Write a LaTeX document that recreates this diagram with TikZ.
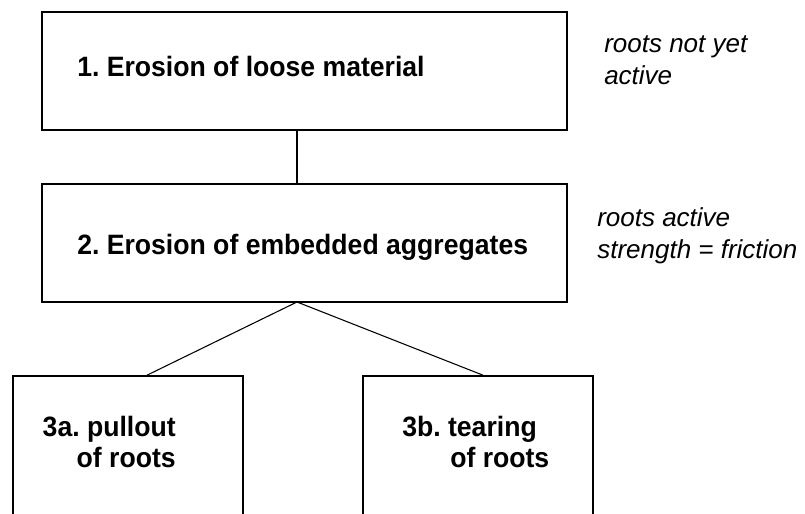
\documentclass[tikz,border=0pt]{standalone}
\usepackage{fontspec}
\setmainfont{Liberation Sans}
\newfontfamily\stagefont[FakeStretch=0.95]{Liberation Sans}
\frenchspacing
\tikzset{stage/.style={draw,line width=1.2pt,minimum width=393.75pt,minimum height=88.5pt,inner sep=0pt},
 substage/.style={stage,minimum width=172.5pt,minimum height=135pt},
 stagetext/.style={font=\stagefont\bfseries\fontsize{21}{23.25}\selectfont,inner sep=0pt},
 note/.style={font=\itshape\fontsize{19.5}{24}\selectfont,inner sep=0pt,align=left},
 link/.style={line width=0.8pt}}

\begin{document}
\begin{tikzpicture}[x=0.75pt,y=-0.75pt]
\useasboundingbox (0,0) rectangle (805,513);
\clip (0,0) rectangle (805,513);
% upper stages
\node[stage] (b1) at (304.5,71) {};
\node[stagetext,anchor=base west] (t1) at (77,77) {1. Erosion of loose material};
\node[stage] (b2) at (304.5,243) {};
\node[stagetext,anchor=base west] (t2) at (77,254) {2. Erosion of embedded aggregates};
% lower stages
\foreach \x/\part in {128/a,478/b} {
 \node[substage] (b3\part) at (\x,466) {};
}
\node[stagetext,align=right,anchor=base east] (t3a) at (176,467) {3a. pullout\\of roots};
\node[stagetext,align=left,anchor=base west] (t3b) at (402,467) {3b. tearing\\\hspace*{36pt}of roots};
% notes (base = last line)
\node[note,anchor=base west] (n1) at (604,85) {roots not yet\\active};
\node[note,anchor=base west] (n2) at (597,258) {roots active\\strength = friction};
% links
\coordinate (fork) at (297,302);
\draw[link] (b1.south -| fork) -- (b2.north -| fork);
\draw[link] (fork) -- ([xshift=14.25pt]b3a.north);
\draw[link] (fork) -- ([xshift=3.75pt]b3b.north);
\end{tikzpicture}
\end{document}
